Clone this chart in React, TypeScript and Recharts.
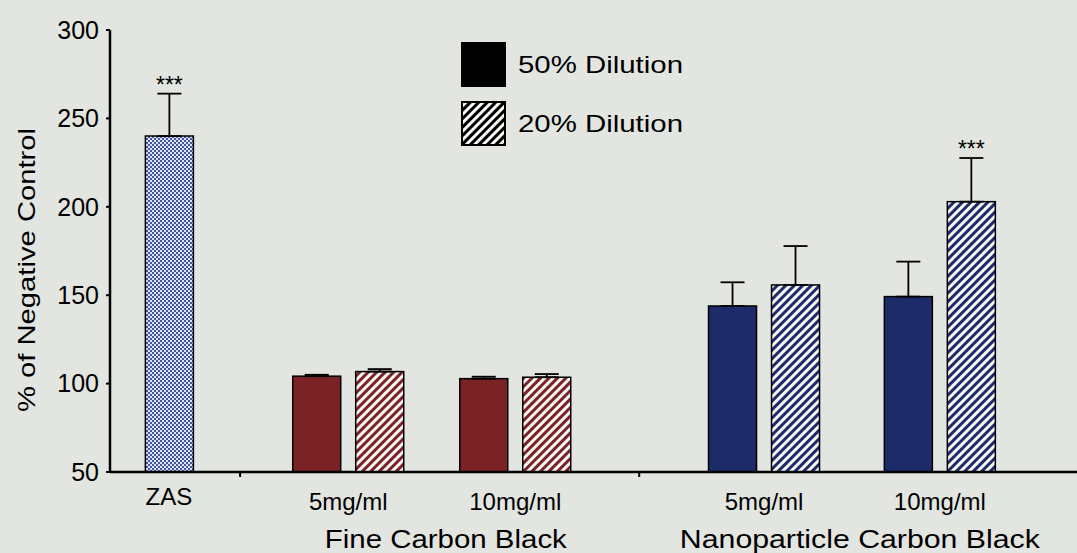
import { BarChart, Bar, XAxis, YAxis, ErrorBar, LabelList, Legend } from "recharts";

// treatments along the x axis
const CATEGORIES = ["ZAS", "5mg/ml", "10mg/ml", "5mg/ml", "10mg/ml"];
const GROUPS = ["Fine Carbon Black", "Nanoparticle Carbon Black"];
const GROUP_OF = [-1, 0, 0, 1, 1];

// % of negative control, mean and upper error
const ZAS_MEAN = [240, null, null, null, null];
const ZAS_ERR = [24, null, null, null, null];
const DIL50_MEAN = [null, 104.2, 102.8, 143.9, 149.2];
const DIL50_ERR = [null, 0.8, 1.1, 13.4, 19.8];
const DIL20_MEAN = [null, 106.8, 103.6, 155.8, 202.9];
const DIL20_ERR = [null, 1.4, 1.8, 22.0, 24.7];

// significance marks
const ZAS_MARK = ["***", "", "", "", ""];
const DIL20_MARK = ["", "", "", "", "***"];

const Y_DOMAIN: [number, number] = [50, 300];
const Y_TICKS = [50, 100, 150, 200, 250, 300];

// x layout (units of the numeric x scale)
const X_DOMAIN: [number, number] = [0, 11];
const SLOT = [0.67, 2.71, 4.61, 7.44, 9.44];
const DIVIDERS = [1.48, 6.02];
const GROUP_CENTRES = [3.82, 8.53];
const GROUP_TEXT_WIDTH = [242, 360];

const FONT = "'Liberation Sans', Arial, Helvetica, sans-serif";
const BG = "#e3e5e0";
const SOLID = ["#7b2226", "#1d2b6a"];
const HATCH = ["url(#hatch-red)", "url(#hatch-navy)"];

const rows = CATEGORIES.map((name, i) => ({
  name,
  pos: SLOT[i],
  family: GROUP_OF[i],
  zas: ZAS_MEAN[i],
  zasErr: ZAS_ERR[i] == null ? undefined : [0, ZAS_ERR[i]],
  zasMark: ZAS_MARK[i] ? i : null,
  d50: DIL50_MEAN[i],
  d50Err: DIL50_ERR[i] == null ? undefined : [0, DIL50_ERR[i]],
  d20: DIL20_MEAN[i],
  d20Err: DIL20_ERR[i] == null ? undefined : [0, DIL20_ERR[i]],
  d20Mark: DIL20_MARK[i] ? i : null,
}));

// "***" above the whisker; the label value is the row index
const makeMarkLabel =
  (means: (number | null)[], errs: (number | null)[], marks: string[]) =>
  (props: any) => {
    const i = props.value;
    if (i == null || i === "") return null;
    const mark = marks[i];
    const mean = means[i];
    if (!mark || mean == null) return null;
    const vb = props.viewBox ?? props;
    const pxPerUnit = vb.height / (mean - Y_DOMAIN[0]);
    const top = vb.y - (errs[i] ?? 0) * pxPerUnit;
    return (
      <text
        x={vb.x + vb.width / 2}
        y={top - 1}
        textAnchor="middle"
        fontSize={23}
        fontFamily={FONT}
        fill="#000"
      >
        {mark}
      </text>
    );
  };

const XTick = (props: any) => {
  const { x, y, payload } = props;
  const v = payload.value;
  const c = SLOT.indexOf(v);
  if (c >= 0) {
    return (
      <text x={x} y={y + (c === 0 ? 33 : 38)} textAnchor="middle" fontSize={24} fontFamily={FONT} fill="#000">
        {CATEGORIES[c]}
      </text>
    );
  }
  const g = GROUP_CENTRES.indexOf(v);
  if (g >= 0) {
    return (
      <text
        x={x}
        y={y + 76}
        textAnchor="middle"
        fontSize={25}
        fontFamily={FONT}
        fill="#000"
        textLength={GROUP_TEXT_WIDTH[g]}
        lengthAdjust="spacingAndGlyphs"
      >
        {GROUPS[g]}
      </text>
    );
  }
  return <line x1={x} x2={x} y1={y} y2={y + 5} stroke="#000" strokeWidth={2} />;
};

const YTitle = (props: any) => {
  const vb = props.viewBox ?? { x: 0, y: 30, height: 442 };
  const cx = 35;
  const cy = vb.y + vb.height / 2 + 19;
  return (
    <text
      transform={`translate(${cx},${cy}) rotate(-90)`}
      textAnchor="middle"
      fontSize={24}
      fontFamily={FONT}
      fill="#000"
      textLength={284}
      lengthAdjust="spacingAndGlyphs"
    >
      % of Negative Control
    </text>
  );
};

const LEGEND_ORDER = ["d50", "d20"];

const renderLegend = (props: any) => {
  const items = LEGEND_ORDER.map((key) => (props.payload ?? []).find((p: any) => p.dataKey === key)).filter(Boolean);
  return (
    <div>
      {items.map((entry: any) => (
        <svg key={entry.dataKey} width={240} height={59} style={{ display: "block" }}>
          <rect
            x={1}
            y={1}
            width={43}
            height={43}
            fill={entry.dataKey === "d20" ? "url(#hatch-black)" : "#000"}
            stroke="#000"
            strokeWidth={2}
          />
          <text
            x={57}
            y={31}
            fontSize={24}
            fontFamily={FONT}
            fill="#000"
            textLength={165}
            lengthAdjust="spacingAndGlyphs"
          >
            {entry.value}
          </text>
        </svg>
      ))}
    </div>
  );
};

const hatch = (id: string, color: string) => (
  <pattern id={id} patternUnits="userSpaceOnUse" width={6} height={6} patternTransform="rotate(45)">
    <rect width={6} height={6} fill="#f7f7f5" />
    <rect width={3} height={6} fill={color} />
  </pattern>
);

const familyBar = (fills: string[]) => (p: any) => (
  <rect
    x={p.x}
    y={p.y}
    width={p.width}
    height={p.height}
    fill={fills[p.payload?.family ?? 0] ?? fills[0]}
    stroke="#000"
    strokeWidth={1.5}
  />
);

export default function App() {
  return (
    <div style={{ position: "absolute", left: 0, top: 0, width: 1077, height: 553, background: BG }}>
      <BarChart
        width={1077}
        height={553}
        data={rows}
        barGap={15}
        margin={{ top: 30, right: 0, bottom: 0, left: 0 }}
      >
        <defs>
          {hatch("hatch-red", SOLID[0])}
          {hatch("hatch-navy", SOLID[1])}
          {hatch("hatch-black", "#000")}
          <pattern id="dots-blue" patternUnits="userSpaceOnUse" width={4} height={4}>
            <rect width={4} height={4} fill="#dfe4f2" />
            <rect x={0} y={0} width={2} height={2} fill="#4556a0" />
            <rect x={2} y={2} width={2} height={2} fill="#4556a0" />
          </pattern>
        </defs>
        <XAxis
          xAxisId="solo"
          dataKey="pos"
          type="number"
          domain={X_DOMAIN}
          ticks={[...DIVIDERS, ...SLOT, ...GROUP_CENTRES]}
          interval={0}
          height={81}
          tickSize={0}
          tickMargin={0}
          tickLine={false}
          tick={<XTick />}
          axisLine={{ stroke: "#000", strokeWidth: 2.5 }}
        />
        <XAxis xAxisId="pair" dataKey="pos" type="number" domain={X_DOMAIN} height={0} hide />
        <YAxis
          domain={Y_DOMAIN}
          ticks={Y_TICKS}
          width={110}
          tickSize={4}
          tickMargin={7}
          tick={{ fill: "#000", fontSize: 25, fontFamily: FONT }}
          tickLine={{ stroke: "#000", strokeWidth: 2 }}
          axisLine={{ stroke: "#000", strokeWidth: 2.5 }}
          label={{ content: <YTitle /> }}
        />
        <Legend
          layout="horizontal"
          verticalAlign="middle"
          align="center"
          content={renderLegend}
          wrapperStyle={{ top: 42, left: 461, width: 240 }}
        />
        <Bar
          xAxisId="solo"
          dataKey="zas"
          name="ZAS"
          legendType="none"
          barSize={48}
          fill="url(#dots-blue)"
          stroke="#000"
          strokeWidth={1.5}
          isAnimationActive={false}
        >
          <ErrorBar dataKey="zasErr" direction="y" width={12} stroke="#000" strokeWidth={1.8} />
          <LabelList dataKey="zasMark" content={makeMarkLabel(ZAS_MEAN, ZAS_ERR, ZAS_MARK)} />
        </Bar>
        <Bar
          xAxisId="pair"
          dataKey="d50"
          name="50% Dilution"
          barSize={48}
          fill={SOLID[0]}
          isAnimationActive={false}
          shape={familyBar(SOLID)}
        >
          <ErrorBar dataKey="d50Err" direction="y" width={12} stroke="#000" strokeWidth={1.8} />
        </Bar>
        <Bar
          xAxisId="pair"
          dataKey="d20"
          name="20% Dilution"
          barSize={48}
          fill={HATCH[0]}
          isAnimationActive={false}
          shape={familyBar(HATCH)}
        >
          <ErrorBar dataKey="d20Err" direction="y" width={12} stroke="#000" strokeWidth={1.8} />
          <LabelList dataKey="d20Mark" content={makeMarkLabel(DIL20_MEAN, DIL20_ERR, DIL20_MARK)} />
        </Bar>
      </BarChart>
    </div>
  );
}
